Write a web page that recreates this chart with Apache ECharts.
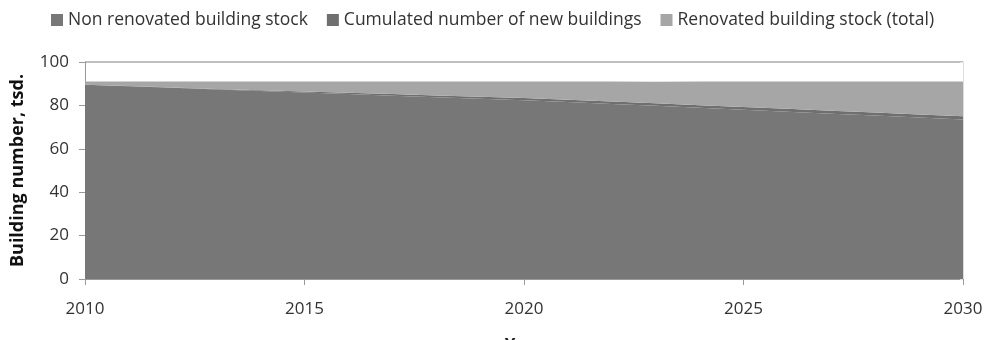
<!DOCTYPE html>
<html>
<head>
<meta charset="utf-8">
<script src="https://cdn.jsdelivr.net/npm/echarts@6/dist/echarts.min.js"></script>
<style>
  html, body { margin: 0; padding: 0; background: #fff; }
  #chart { width: 985px; height: 340px; }
</style>
</head>
<body>
<div id="chart"></div>
<script>
// Years on the horizontal axis
const years = ['2010','2011','2012','2013','2014','2015','2016','2017','2018','2019','2020',
               '2021','2022','2023','2024','2025','2026','2027','2028','2029','2030'];

// Building stock, thousands of buildings
const nonRenovated = [89.5, 88.8, 88.1, 87.3, 86.6, 85.9, 85.2, 84.5, 83.8, 83.1, 82.4,
                      81.6, 80.7, 79.8, 78.9, 78.0, 77.1, 76.2, 75.3, 74.4, 73.5];
const newBuildings = [0.0, 0.1, 0.2, 0.3, 0.4, 0.5, 0.6, 0.7, 0.8, 0.9, 1.0,
                      1.05, 1.1, 1.15, 1.2, 1.25, 1.3, 1.35, 1.4, 1.45, 1.5];
const renovated = [1.5, 2.1, 2.7, 3.4, 4.0, 4.6, 5.2, 5.8, 6.4, 7.0, 7.6,
                   8.4, 9.2, 10.0, 10.9, 11.8, 12.6, 13.5, 14.3, 15.2, 16.0];

const seriesNames = ['Non renovated building stock', 'Cumulated number of new buildings', 'Renovated building stock (total)'];
const seriesColors = ['#777777', '#6f6f6f', '#a6a6a6'];

const font = '"Open Sans", sans-serif';
const chart = echarts.init(document.getElementById('chart'), null, { renderer: 'canvas' });

function areaSeries(name, data, color) {
  return {
    name: name,
    type: 'line',
    stack: 'stock',
    data: data,
    symbol: 'none',
    lineStyle: { width: 0 },
    areaStyle: { color: color, opacity: 1 },
    itemStyle: { color: color },
    animation: false
  };
}

chart.setOption({
  animation: false,
  legend: {
    top: 5,
    left: 46,
    itemGap: 19,
    itemWidth: 12,
    itemHeight: 12,
    icon: 'rect',
    textStyle: { fontFamily: font, fontSize: 17.5, color: '#333', lineHeight: 20 },
    data: seriesNames
  },
  grid: { left: 85, right: 22, top: 62, bottom: 61, outerBoundsMode: 'none', containLabel: false },
  xAxis: {
    type: 'category',
    data: years,
    boundaryGap: false,
    name: 'Year',
    nameLocation: 'middle',
    nameGap: 59,
    nameTextStyle: { fontFamily: font, fontSize: 17, fontWeight: 'bold', color: '#222' },
    axisLine: { lineStyle: { color: '#999', width: 1 } },
    axisTick: { interval: 4, length: 6, lineStyle: { color: '#999' } },
    axisLabel: { interval: 4, fontFamily: font, fontSize: 17, color: '#333', margin: 22 },
    splitLine: { show: false }
  },
  yAxis: [{
    type: 'value',
    min: 0,
    max: 100,
    interval: 20,
    name: 'Building number, tsd.',
    nameLocation: 'middle',
    nameGap: 58,
    nameTextStyle: { fontFamily: font, fontSize: 18, fontWeight: 'bold', color: '#111' },
    axisLine: { show: true, lineStyle: { color: '#999' } },
    axisTick: { show: true, length: 6, lineStyle: { color: '#999' } },
    axisLabel: { fontFamily: font, fontSize: 17, color: '#333', margin: 16 },
    splitLine: {
      show: true,
      lineStyle: { color: ['transparent', 'transparent', 'transparent', 'transparent', 'transparent', '#aaa'], width: 1.5 }
    }
  }, {
    type: 'value',
    min: 0,
    max: 100,
    interval: 20,
    position: 'right',
    axisLine: { show: true, lineStyle: { color: '#ddd' } },
    axisTick: { show: true, inside: true, length: 3, lineStyle: { color: '#ddd' } },
    axisLabel: { show: false },
    splitLine: { show: false }
  }],
  series: [
    areaSeries(seriesNames[0], nonRenovated, seriesColors[0]),
    areaSeries(seriesNames[1], newBuildings, seriesColors[1]),
    areaSeries(seriesNames[2], renovated, seriesColors[2])
  ]
});
</script>
</body>
</html>
